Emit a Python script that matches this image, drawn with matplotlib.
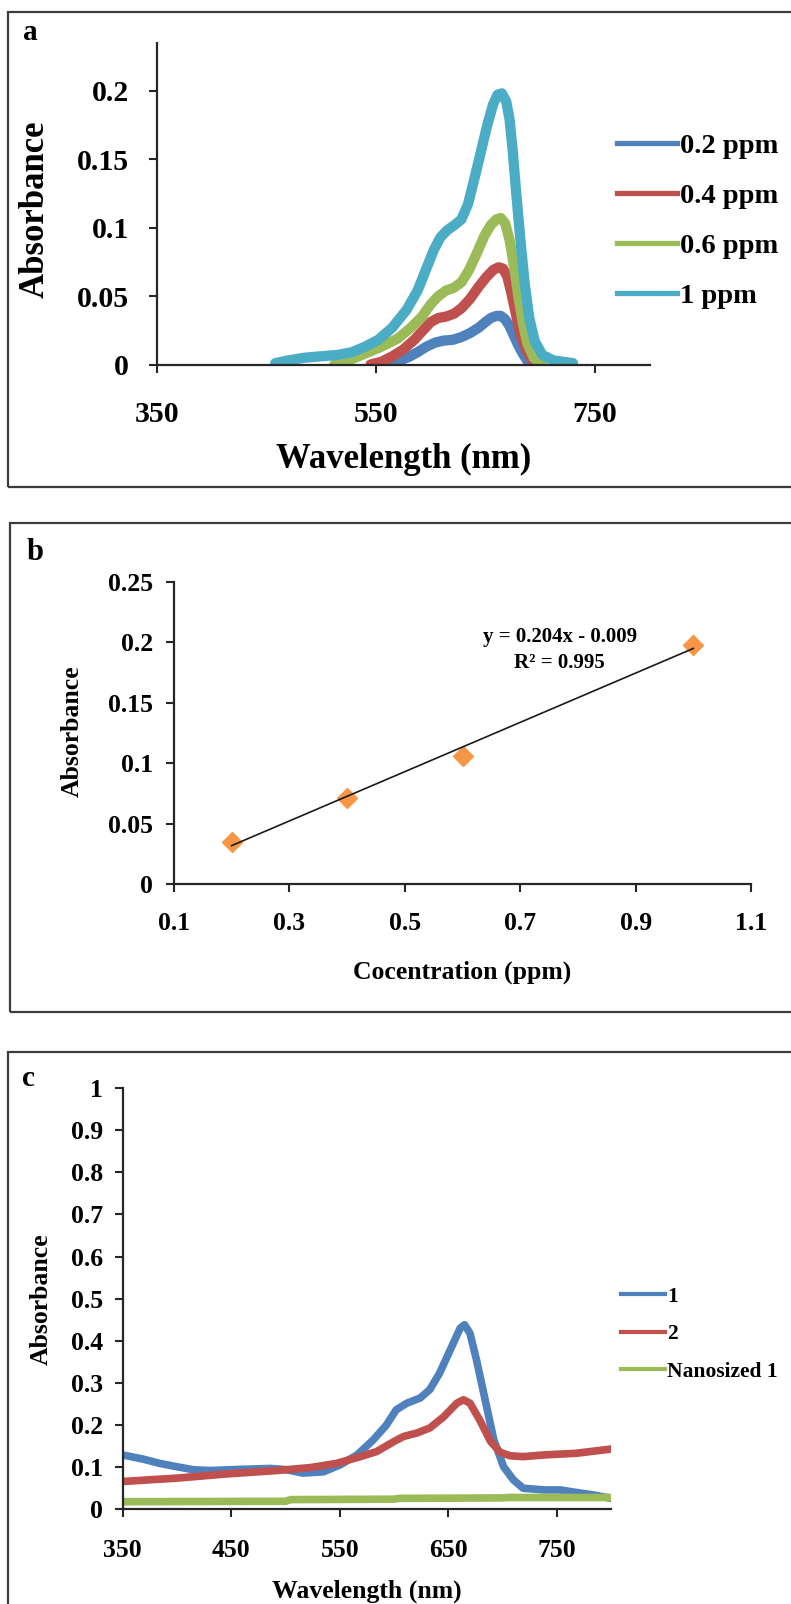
import matplotlib
matplotlib.use("Agg")
import matplotlib.pyplot as plt
from matplotlib.lines import Line2D
from matplotlib.patches import Rectangle

plt.rcParams["font.family"] = ["Liberation Serif", "DejaVu Serif"]
plt.rcParams["font.weight"] = "bold"

# ---------------- data ----------------
# (a) absorption spectra at several concentrations
wl_02 = [560, 566, 572, 580, 588, 596, 604, 612, 620, 628, 636, 644, 650, 655, 660, 664, 668, 672,
         676, 680, 684, 688, 692]
ab_02 = [0.000, 0.001, 0.003, 0.0055, 0.009, 0.013, 0.016, 0.0175, 0.018, 0.020, 0.023, 0.027, 0.031,
         0.034, 0.0355, 0.0355, 0.033, 0.028, 0.021, 0.014, 0.008, 0.003, 0.000]

wl_04 = [545, 555, 565, 575, 585, 593, 600, 607, 614, 621, 628, 636, 644, 651, 657, 662, 666, 670,
         674, 678, 682, 687, 692, 698]
ab_04 = [0.000, 0.002, 0.006, 0.011, 0.018, 0.025, 0.031, 0.034, 0.035, 0.037, 0.041, 0.048, 0.057,
         0.064, 0.069, 0.071, 0.070, 0.064, 0.051, 0.036, 0.022, 0.011, 0.004, 0.000]

wl_06 = [512, 525, 540, 555, 570, 582, 592, 600, 607, 614, 621, 628, 635, 642, 649, 655, 660, 664,
         668, 672, 676, 680, 684, 688, 694, 702]
ab_06 = [0.000, 0.003, 0.008, 0.013, 0.019, 0.027, 0.035, 0.044, 0.050, 0.054, 0.056, 0.060, 0.069,
         0.081, 0.094, 0.102, 0.106, 0.107, 0.103, 0.091, 0.072, 0.050, 0.031, 0.016, 0.005, 0.000]

wl_10 = [458, 470, 485, 500, 515, 528, 540, 552, 565, 578, 588, 596, 603, 609, 615, 622, 628, 634,
         640, 646, 652, 657, 661, 665, 669, 672, 675, 678, 682, 686, 690, 695, 702, 712, 730]
ab_10 = [0.001, 0.003, 0.005, 0.006, 0.007, 0.009, 0.013, 0.018, 0.027, 0.040, 0.054, 0.070, 0.084,
         0.093, 0.098, 0.102, 0.106, 0.117, 0.136, 0.156, 0.176, 0.190, 0.197, 0.198, 0.192, 0.179,
         0.155, 0.126, 0.090, 0.058, 0.034, 0.017, 0.007, 0.003, 0.001]

spec_labels = ["0.2 ppm", "0.4 ppm", "0.6 ppm", "1 ppm"]
spec_colors = ["#4F81BD", "#C0504D", "#9BBB59", "#4BACC6"]

# (b) calibration points and fitted line
conc = [0.2, 0.4, 0.6, 1.0]
absorb = [0.035, 0.071, 0.106, 0.198]
fit_slope, fit_intercept, fit_r2 = 0.204, -0.009, 0.995

# (c) spectra of the compounds
wl_c1 = [350, 369, 384, 400, 415, 430, 461, 486, 501, 516, 535, 550, 566, 581, 593, 602, 612, 624, 633,
         642, 652, 661, 665, 670, 676, 684, 692, 701, 710, 719, 738, 753, 768, 784, 800]
ab_c1 = [0.129, 0.119, 0.109, 0.101, 0.094, 0.092, 0.095, 0.097, 0.094, 0.086, 0.089, 0.105, 0.129,
         0.165, 0.200, 0.236, 0.252, 0.264, 0.284, 0.323, 0.379, 0.430, 0.438, 0.418, 0.355, 0.260,
         0.165, 0.101, 0.070, 0.050, 0.046, 0.046, 0.040, 0.034, 0.026]

wl_c2 = [350, 400, 446, 492, 523, 547, 569, 584, 600, 609, 621, 633, 646, 658, 664, 670, 679, 689, 698,
         707, 719, 738, 768, 800]
ab_c2 = [0.066, 0.074, 0.084, 0.092, 0.099, 0.109, 0.125, 0.137, 0.161, 0.173, 0.181, 0.193, 0.220,
         0.252, 0.260, 0.252, 0.212, 0.161, 0.135, 0.127, 0.125, 0.129, 0.133, 0.143]

wl_cn = [350, 500, 505, 600, 605, 700, 705, 800]
ab_cn = [0.018, 0.019, 0.023, 0.024, 0.026, 0.027, 0.028, 0.028]

comp_labels = ["1", "2", "Nanosized 1"]
comp_colors = ["#4F81BD", "#C0504D", "#9BBB59"]

# ---------------- figure ----------------
W, H = 791, 1604
fig = plt.figure(figsize=(W / 100, H / 100), dpi=100)


def fx(px):
    return px / W


def fy(py):
    return 1 - py / H


def frame(x0, y0, x1, y1):
    fig.patches.append(Rectangle((fx(x0), fy(y1)), fx(x1) - fx(x0), fy(y0) - fy(y1),
                                 transform=fig.transFigure, fill=False,
                                 ec="#3c3c3c", lw=1.6))


def axes_px(left, top, right, bottom):
    return fig.add_axes([fx(left), fy(bottom), fx(right) - fx(left), fy(top) - fy(bottom)])


def style(ax, xpad, ypad, size):
    for s in ("top", "right"):
        ax.spines[s].set_visible(False)
    for s in ("left", "bottom"):
        ax.spines[s].set_color("#262626")
        ax.spines[s].set_linewidth(1.6)
    ax.tick_params(axis="both", direction="out", length=6, width=1.5, color="#262626",
                   labelsize=size)
    ax.tick_params(axis="x", pad=xpad)
    ax.tick_params(axis="y", pad=ypad)
    for lab in ax.get_xticklabels() + ax.get_yticklabels():
        lab.set_fontweight("bold")


def label(x, y, s, size, **kw):
    fig.text(fx(x), fy(y), s, fontsize=size, fontweight="bold", ha="center", va="center", **kw)


# panel frames
frame(8, 12, 800, 487)
frame(10, 523, 800, 1012)
frame(8, 1052, 800, 1620)

# ---- (a) ----
ax = axes_px(157, 42.7, 649.7, 364.5)
for wl, ab, c in zip([wl_02, wl_04, wl_06, wl_10], [ab_02, ab_04, ab_06, ab_10], spec_colors):
    ax.plot(wl, ab, color=c, lw=7.4, solid_capstyle="round", solid_joinstyle="round")
ax.set_xlim(350, 800)
ax.set_ylim(0, 0.235)
ax.set_xticks([350, 550, 750], ["350", "550", "750"])
ax.set_yticks([0, 0.05, 0.1, 0.15, 0.2], ["0", "0.05", "0.1", "0.15", "0.2"])
style(ax, 20.5, 14, 21.5)
handles = [Line2D([], [], color=c, lw=3.8) for c in spec_colors]
ax.legend(handles, spec_labels, loc="upper left", bbox_to_anchor=(fx(617), fy(133.5)),
          bbox_transform=fig.transFigure, frameon=False, handlelength=2.12, handletextpad=0.1,
          labelspacing=0.84, borderpad=0, borderaxespad=0,
          prop={"size": 20.5, "weight": "bold"})
label(30, 32, "a", 21)
label(35, 209, "Absorbance", 25, rotation=90)
label(404, 459, "Wavelength (nm)", 25)

# ---- (b) ----
ax = axes_px(174, 582, 751, 884)
ax.plot(conc, absorb, linestyle="none", marker="D", ms=10.5, color="#F79646", zorder=2)
fx_line = [conc[0], conc[-1]]
ax.plot(fx_line, [fit_slope * v + fit_intercept for v in fx_line], color="#1a1a1a", lw=1.2, zorder=3)
ax.set_xlim(0.1, 1.1)
ax.set_ylim(0, 0.25)
ax.set_xticks([0.1, 0.3, 0.5, 0.7, 0.9, 1.1], ["0.1", "0.3", "0.5", "0.7", "0.9", "1.1"])
ax.set_yticks([0, 0.05, 0.1, 0.15, 0.2, 0.25], ["0", "0.05", "0.1", "0.15", "0.2", "0.25"])
style(ax, 14, 9, 18.5)
label(560, 637, f"y = {fit_slope:.3f}x - {abs(fit_intercept):.3f}", 15)
label(559, 663, f"R² = {fit_r2:.3f}", 15)
label(35, 553, "b", 22)
label(72, 731, "Absorbance", 18.5, rotation=90)
label(462, 972, "Cocentration (ppm)", 18.5)

# ---- (c) ----
ax = axes_px(122.7, 1088, 611, 1509.3)
for wl, ab, c in zip([wl_c1, wl_c2, wl_cn], [ab_c1, ab_c2, ab_cn], comp_colors):
    ax.plot(wl, ab, color=c, lw=5.5, solid_joinstyle="round")
ax.set_xlim(350, 800)
ax.set_ylim(0, 1)
ax.set_xticks([350, 450, 550, 650, 750], ["350", "450", "550", "650", "750"])
yt = [0, 0.1, 0.2, 0.3, 0.4, 0.5, 0.6, 0.7, 0.8, 0.9, 1.0]
ax.set_yticks(yt, ["0", "0.1", "0.2", "0.3", "0.4", "0.5", "0.6", "0.7", "0.8", "0.9", "1"])
style(ax, 15.5, 8, 18.5)
handles = [Line2D([], [], color=c, lw=3) for c in comp_colors]
ax.legend(handles, comp_labels, loc="upper left", bbox_to_anchor=(fx(621), fy(1286.5)),
          bbox_transform=fig.transFigure, frameon=False, handlelength=2.05, handletextpad=0.1,
          labelspacing=0.82, borderpad=0, borderaxespad=0,
          prop={"size": 15.5, "weight": "bold"})
label(28, 1078, "c", 21)
label(41, 1299, "Absorbance", 18.5, rotation=90)
label(367, 1591, "Wavelength (nm)", 18.5)

fig.savefig("out.png", dpi=100)
